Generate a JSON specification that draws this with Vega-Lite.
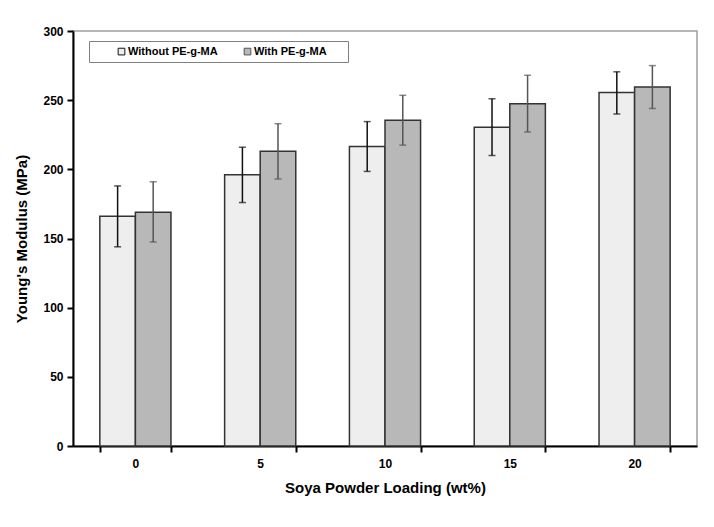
{
  "$schema": "https://vega.github.io/schema/vega-lite/v6.json",
  "width": 624,
  "height": 415,
  "autosize": {"type": "none"},
  "padding": {"left": 73, "top": 31, "right": 17, "bottom": 81},
  "background": "white",
  "config": {
    "font": "Liberation Sans",
    "view": {"stroke": "#a0a0a0", "strokeWidth": 1.5}
  },
  "data": {
    "values": [
      {"loading": "0", "group": "Without PE-g-MA", "modulus": 166, "lo": 144, "hi": 188},
      {"loading": "0", "group": "With PE-g-MA", "modulus": 169, "lo": 147.5, "hi": 191},
      {"loading": "5", "group": "Without PE-g-MA", "modulus": 196, "lo": 176, "hi": 216},
      {"loading": "5", "group": "With PE-g-MA", "modulus": 213, "lo": 193, "hi": 233},
      {"loading": "10", "group": "Without PE-g-MA", "modulus": 216.5, "lo": 198.5, "hi": 234.5},
      {"loading": "10", "group": "With PE-g-MA", "modulus": 235.5, "lo": 217.5, "hi": 253.5},
      {"loading": "15", "group": "Without PE-g-MA", "modulus": 230.5, "lo": 210, "hi": 251},
      {"loading": "15", "group": "With PE-g-MA", "modulus": 247.5, "lo": 227, "hi": 268},
      {"loading": "20", "group": "Without PE-g-MA", "modulus": 255.5, "lo": 240, "hi": 270.5},
      {"loading": "20", "group": "With PE-g-MA", "modulus": 259.5, "lo": 244, "hi": 275}
    ]
  },
  "encoding": {
    "x": {
      "field": "loading", "type": "ordinal", "sort": ["0", "5", "10", "15", "20"],
      "scale": {"paddingInner": 0.43, "paddingOuter": 0.215},
      "axis": {
        "title": "Soya Powder Loading (wt%)",
        "labelAngle": 0, "labelFont": "Liberation Sans", "labelFontWeight": "bold", "labelFontSize": 12,
        "labelColor": "black", "labelPadding": 6,
        "titleFont": "Liberation Sans", "titleFontWeight": "bold", "titleFontSize": 15, "titleColor": "black",
        "titlePadding": 11,
        "domainColor": "black", "domainWidth": 2,
        "tickColor": "black", "tickWidth": 2, "tickSize": 6, "tickBand": "extent"
      }
    },
    "xOffset": {"field": "group", "type": "nominal", "sort": ["Without PE-g-MA", "With PE-g-MA"], "scale": {"paddingInner": 0, "paddingOuter": 0}}
  },
  "layer": [
    {
      "mark": {"type": "bar", "stroke": "#333333", "strokeWidth": 1.5},
      "encoding": {
        "y": {
          "field": "modulus", "type": "quantitative",
          "scale": {"domain": [0, 300], "nice": false},
          "axis": {
            "title": "Young's Modulus (MPa)", "values": [0, 50, 100, 150, 200, 250, 300], "grid": false,
            "labelFont": "Liberation Sans", "labelFontWeight": "bold", "labelFontSize": 12, "labelColor": "black",
            "labelPadding": 4,
            "titleFont": "Liberation Sans", "titleFontWeight": "bold", "titleFontSize": 15, "titleColor": "black",
            "titlePadding": 13,
            "domainColor": "black", "domainWidth": 2,
            "tickColor": "black", "tickWidth": 2, "tickSize": 6
          }
        },
        "fill": {
          "field": "group", "type": "nominal",
          "scale": {"domain": ["Without PE-g-MA", "With PE-g-MA"], "range": ["#eeeeee", "#b8b8b8"]},
          "legend": {
            "title": null, "orient": "none", "legendX": 16, "legendY": 10, "direction": "horizontal",
            "columns": 2, "columnPadding": 2, "padding": 5, "symbolOffset": 22,
            "symbolType": "square", "symbolSize": 45, "symbolStrokeColor": "#333333", "symbolStrokeWidth": 1,
            "labelFont": "Liberation Sans", "labelFontWeight": "bold", "labelFontSize": 11, "labelColor": "black",
            "labelOffset": 1,
            "labelExpr": "datum.label == 'With PE-g-MA' ? datum.label + '\u2800\u2800' : datum.label",
            "strokeColor": "#808080", "fillColor": "white"
          }
        }
      }
    },
    {
      "mark": {"type": "rule", "strokeWidth": 1.5},
      "encoding": {
        "y": {"field": "lo", "type": "quantitative"},
        "y2": {"field": "hi"},
        "color": {"field": "group", "type": "nominal", "scale": {"domain": ["Without PE-g-MA", "With PE-g-MA"], "range": ["#111111", "#555555"]}, "legend": null}
      }
    },
    {
      "mark": {"type": "tick", "size": 7, "thickness": 1.5},
      "encoding": {
        "y": {"field": "lo", "type": "quantitative"},
        "color": {"field": "group", "type": "nominal", "legend": null}
      }
    },
    {
      "mark": {"type": "tick", "size": 7, "thickness": 1.5},
      "encoding": {
        "y": {"field": "hi", "type": "quantitative"},
        "color": {"field": "group", "type": "nominal", "legend": null}
      }
    }
  ]
}
